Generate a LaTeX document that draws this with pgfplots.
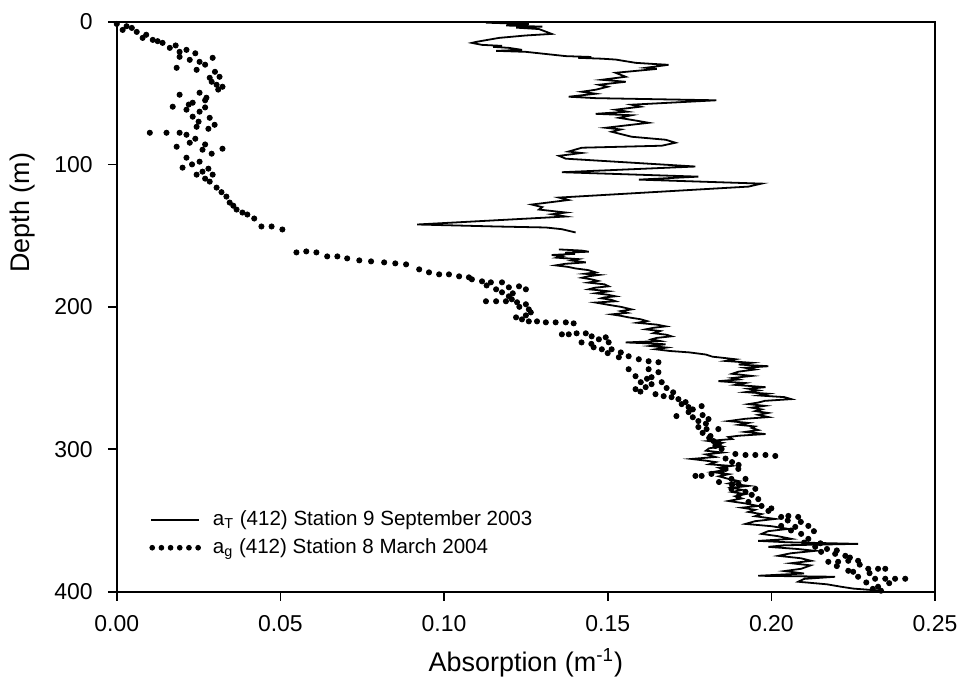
\documentclass[border=0pt]{standalone}
\usepackage{pgfplots}
\pgfplotsset{compat=1.18}
\usepackage{pgfplotstable}
\usepackage{fontspec}
\setmainfont{Liberation Sans}

\pgfplotstableread{
x d
0.1128 0.5
0.1259 1.5
0.1190 2.5
0.1300 3.3
0.1220 4.0
0.1290 5.0
0.1329 8.4
0.1250 9.5
0.1168 11.2
0.1098 14.0
0.1085 14.7
0.1116 16.1
0.1177 16.8
0.1150 17.5
0.1198 18.2
0.1238 19.6
0.1159 20.3
0.1250 21.0
0.1372 24.0
0.1450 24.6
0.1410 25.2
0.1482 25.8
0.1524 26.4
0.1585 28.7
0.1640 29.5
0.1686 30.1
0.1616 32.2
0.1650 33.0
0.1524 35.7
0.1555 38.5
0.1482 40.6
0.1555 42.0
0.1473 44.1
0.1500 45.5
0.1463 47.6
0.1421 49.0
0.1463 50.4
0.1381 52.5
0.1463 53.5
0.1832 55.0
0.1573 58.1
0.1600 59.5
0.1524 61.6
0.1560 63.0
0.1463 64.5
0.1573 65.5
0.1534 67.3
0.1580 69.0
0.1625 70.8
0.1494 74.3
0.1540 75.5
0.1512 77.1
0.1573 80.6
0.1677 82.7
0.1707 84.8
0.1665 86.9
0.1421 88.3
0.1380 91.0
0.1420 92.0
0.1351 94.0
0.1372 96.0
0.1768 101.5
0.1360 105.5
0.1777 108.6
0.1595 110.7
0.1970 113.5
0.1930 115.6
0.1351 123.3
0.1380 125.0
0.1268 128.2
0.1300 130.0
0.1290 131.7
0.1372 133.8
0.1330 135.0
0.1372 136.6
0.0918 142.2
0.1159 143.6
0.1311 144.3
0.1360 145.5
0.1402 147.8
nan nan
0.1351 159.7
0.1420 160.5
0.1442 161.3
0.1370 162.0
0.1400 162.8
0.1329 163.6
0.1360 164.6
0.1345 165.5
0.1410 166.5
0.1390 167.5
0.1433 168.8
0.1370 169.8
0.1341 170.9
0.1380 172.0
0.1400 173.0
0.1440 174.2
0.1463 175.8
0.1430 176.8
0.1473 177.6
0.1440 178.6
0.1421 179.6
0.1450 180.7
0.1470 181.8
0.1440 183.0
0.1490 184.2
0.1503 185.6
0.1460 186.6
0.1442 187.7
0.1480 188.5
0.1503 189.1
0.1463 190.5
0.1500 191.5
0.1524 192.6
0.1490 193.4
0.1480 194.0
0.1510 195.0
0.1524 196.1
0.1463 197.0
0.1500 198.5
0.1540 200.0
0.1573 201.8
0.1540 203.0
0.1560 204.2
0.1512 205.3
0.1540 206.3
0.1564 207.4
0.1600 208.7
0.1620 210.0
0.1590 211.2
0.1650 212.5
0.1677 213.7
0.1640 214.7
0.1616 215.8
0.1660 217.0
0.1640 218.5
0.1680 219.6
0.1695 220.7
0.1650 221.8
0.1634 222.8
0.1660 224.0
0.1555 225.0
0.1620 225.6
0.1677 226.3
0.1630 227.5
0.1680 228.6
0.1646 229.8
0.1690 231.0
0.1750 232.0
0.1800 233.5
0.1820 235.0
0.1860 236.0
0.1890 236.8
0.1860 238.0
0.1940 239.3
0.1900 240.5
0.1991 241.7
0.1920 242.8
0.1950 244.0
0.1900 245.5
0.1880 247.0
0.1940 248.5
0.1880 250.0
0.1900 251.0
0.1838 252.2
0.1920 253.5
0.1890 254.8
0.1982 256.4
0.1930 257.5
0.1960 258.7
0.1921 259.9
0.1990 261.0
0.1960 262.2
0.2040 263.4
0.2061 264.8
0.1980 266.0
0.1960 267.2
0.1930 268.3
0.1980 269.5
0.1940 270.8
0.1970 272.0
0.1951 273.2
0.1990 274.5
0.1960 275.8
0.1991 277.4
0.1920 278.6
0.1869 280.2
0.1930 281.5
0.1900 282.8
0.1950 284.0
0.1940 285.0
0.1960 286.5
0.1920 287.8
0.1982 289.3
0.1900 290.5
0.1869 291.4
0.1880 292.8
0.1808 294.2
0.1850 295.5
0.1830 296.8
0.1850 298.0
0.1810 299.3
0.1800 301.0
0.1850 302.3
0.1800 303.6
0.1829 305.4
0.1756 306.8
0.1800 308.0
0.1830 309.0
0.1810 310.5
0.1878 311.7
0.1840 313.0
0.1860 314.5
0.1820 316.0
0.1870 317.5
0.1840 319.0
0.1869 320.8
0.1900 322.3
0.1870 324.0
0.1930 325.7
0.1880 327.0
0.1910 328.5
0.1880 330.0
0.1920 331.5
0.1890 333.0
0.1910 334.5
0.1869 336.3
0.1920 338.0
0.1960 339.8
0.1910 341.0
0.1950 342.5
0.1930 344.0
0.1970 345.5
0.1950 347.0
0.2012 348.9
0.1950 350.5
0.1921 352.4
0.2000 354.0
0.2052 355.9
0.1990 357.5
0.1970 359.4
0.2020 361.0
0.2061 362.9
0.1960 364.3
0.2050 365.3
0.2265 366.4
0.2040 367.4
0.1991 368.5
0.2080 370.0
0.2134 371.3
0.2060 373.0
0.2021 374.8
0.2090 376.5
0.2122 378.3
0.2060 380.0
0.2120 381.5
0.2091 383.9
0.2040 385.5
0.2100 387.2
0.1960 388.8
0.2195 389.5
0.2100 391.0
0.2082 393.0
0.2170 394.8
0.2213 396.5
0.2250 397.8
0.2335 399.3
}\aT

\pgfplotstableread{
x d
0.0000 1.4
0.0046 4.2
0.0018 5.6
0.0061 7.0
0.0079 11.2
0.0110 12.6
0.0140 14.7
0.0162 18.2
0.0213 19.6
0.0192 21.0
0.0192 24.5
0.0293 25.2
0.0223 26.6
0.0253 28.0
0.0183 32.2
0.0244 33.6
0.0314 38.5
0.0284 39.2
0.0305 44.1
0.0323 45.5
0.0253 49.7
0.0192 51.1
0.0274 53.2
0.0232 56.7
0.0171 59.5
0.0213 61.6
0.0253 63.0
0.0232 66.5
0.0284 67.3
0.0299 72.2
0.0244 73.6
0.0101 77.8
0.0152 77.8
0.0192 77.8
0.0213 79.2
0.0223 84.8
0.0183 87.6
0.0323 89.0
0.0262 89.7
0.0213 95.3
0.0253 98.1
0.0201 102.3
0.0262 105.1
0.0244 107.2
0.0293 107.2
0.0284 112.1
0.0305 116.3
0.0335 122.6
0.0345 126.8
0.0366 131.7
0.0384 133.8
0.0399 135.2
0.0442 143.6
0.0473 143.6
0.0506 145.7
0.0030 3.0
0.0090 9.0
0.0125 13.5
0.0180 16.5
0.0240 22.0
0.0270 30.0
0.0300 35.0
0.0290 42.0
0.0310 47.5
0.0270 55.0
0.0220 58.0
0.0270 60.0
0.0250 70.0
0.0280 75.0
0.0240 82.0
0.0270 86.0
0.0290 92.5
0.0230 100.0
0.0280 103.0
0.0270 110.0
0.0320 119.5
0.0356 129.0
0.0420 138.0
0.0549 161.8
0.0579 161.1
0.0610 161.8
0.0643 164.6
0.0674 164.6
0.0704 166.0
0.0741 167.4
0.0777 168.1
0.0817 168.8
0.0851 169.5
0.0884 170.2
0.0924 173.7
0.0954 175.8
0.0985 177.2
0.1015 177.2
0.1046 178.6
0.1076 179.3
0.1085 180.7
0.1116 182.1
0.1143 182.8
0.1177 182.8
0.1198 186.3
0.1229 185.6
0.1250 187.7
0.1159 187.7
0.1177 189.8
0.1198 192.6
0.1128 196.1
0.1159 196.1
0.1189 196.1
0.1207 194.7
0.1223 196.8
0.1250 198.2
0.1259 201.8
0.1265 203.9
0.1220 207.4
0.1238 208.8
0.1259 210.2
0.1284 210.2
0.1311 210.9
0.1341 210.9
0.1372 210.9
0.1396 211.6
0.1130 185.0
0.1210 190.5
0.1230 200.0
0.1250 206.0
0.1360 219.3
0.1381 219.3
0.1405 218.6
0.1433 218.6
0.1451 220.7
0.1473 222.8
0.1494 221.4
0.1503 224.9
0.1420 225.0
0.1450 226.0
0.1457 228.4
0.1482 229.8
0.1512 229.8
0.1540 232.0
0.1500 232.5
0.1534 235.4
0.1564 234.7
0.1595 236.8
0.1625 238.2
0.1655 238.9
0.1564 243.8
0.1625 243.8
0.1655 245.9
0.1585 248.7
0.1634 249.4
0.1620 250.5
0.1601 252.9
0.1665 252.9
0.1634 254.3
0.1616 256.4
0.1585 257.8
0.1680 257.0
0.1600 259.5
0.1700 260.0
0.1646 261.3
0.1671 262.7
0.1695 263.4
0.1716 264.8
0.1738 266.9
0.1726 268.3
0.1787 269.7
0.1747 270.4
0.1760 272.0
0.1747 273.9
0.1790 276.0
0.1710 276.7
0.1760 277.5
0.1808 278.8
0.1777 280.2
0.1800 282.0
0.1777 284.4
0.1802 285.8
0.1838 285.8
0.1790 288.5
0.1814 290.7
0.1810 292.0
0.1823 294.2
0.1840 296.0
0.1829 297.7
0.1848 299.8
0.1890 303.3
0.1921 304.0
0.1951 304.0
0.1982 304.0
0.2012 304.7
0.1860 306.5
0.1880 309.0
0.1900 311.0
0.1860 313.8
0.1899 313.8
0.1848 315.9
0.1817 317.3
0.1787 318.7
0.1768 318.7
0.1878 320.8
0.1921 320.8
0.1840 323.0
0.1900 324.5
0.1880 325.0
0.1878 327.8
0.1951 327.8
0.1921 329.9
0.1940 332.0
0.1899 333.3
0.1960 335.0
0.1930 337.0
0.1970 339.8
0.2000 341.5
0.1991 343.3
0.2030 347.5
0.2052 346.8
0.2082 347.5
0.2050 350.0
0.2090 351.0
0.2030 353.8
0.2073 354.5
0.2113 353.8
0.2060 357.0
0.2130 357.5
0.2091 359.4
0.2113 362.9
0.2100 365.5
0.2150 366.0
0.2134 368.5
0.2170 370.0
0.2200 371.0
0.2152 372.0
0.2195 373.4
0.2226 374.8
0.2240 376.0
0.2174 379.0
0.2204 379.0
0.2235 378.3
0.2265 378.3
0.2270 381.0
0.2200 382.0
0.2296 383.9
0.2326 383.9
0.2348 383.9
0.2235 385.3
0.2250 386.0
0.2300 387.0
0.2265 389.5
0.2317 390.9
0.2348 390.9
0.2378 390.9
0.2409 390.9
0.2290 393.5
0.2360 394.0
0.2326 396.5
0.2310 398.0
0.2335 399.3
}\ag

\begin{document}
\begin{tikzpicture}
\begin{axis}[
  scale only axis,
  width=410pt, height=285.5pt,
  xmin=0, xmax=0.25, ymin=0, ymax=400,
  y dir=reverse,
  xtick={0,0.05,0.10,0.15,0.20,0.25},
  ytick={0,100,200,300,400},
  minor tick num=0,
  tick align=outside,
  major tick length=4.5pt,
  xtick pos=bottom, ytick pos=left,
  axis line style={line width=0.8pt},
  major tick style={line width=0.8pt, black},
  /pgf/number format/assume math mode=true,
  xticklabel style={/pgf/number format/.cd, fixed, fixed zerofill, precision=2, /tikz/.cd, font=\fontsize{11.5}{13}\selectfont, yshift=-4pt},
  yticklabel style={font=\fontsize{11.5}{13}\selectfont, xshift=-4pt},
  scaled x ticks=false,
  xlabel={Absorption (m\textsuperscript{-1})},
  ylabel={Depth (m)},
  xlabel style={font=\fontsize{13.5}{15}\selectfont, at={(axis description cs:0.5,-0.125)}, anchor=center},
  ylabel style={font=\fontsize{13.5}{15}\selectfont, at={(axis description cs:-0.115,0.665)}, anchor=center},
  unbounded coords=jump,
  legend style={at={(axis description cs:0.037,0.153)}, anchor=north west, draw=none, fill=none,
    font=\fontsize{10.3}{12}\selectfont, row sep=1pt, inner sep=1pt},
  legend cell align=left,
]
\coordinate (bl) at (axis description cs:-0.1427,-0.1839);
\coordinate (tr) at (axis description cs:1.0329,1.0385);
\addplot[black, line width=0.9pt, line join=miter, mark=none,
  legend image code/.code={\draw[black, line width=0.9pt] (0pt,0pt) -- (24pt,0pt);}]
  table[x=x, y=d] {\aT};
\addlegendentry{\hspace{4pt}a\textsubscript{T} (412) Station 9 September 2003}
\addplot[black, only marks, mark=*, mark size=1.3pt,
  legend image code/.code={\foreach \i in {0,1,...,5} {\fill[black] (\i*4.6pt+0.6pt,0pt) circle (1.2pt);}}]
  table[x=x, y=d] {\ag};
\addlegendentry{\hspace{4pt}a\textsubscript{g} (412) Station 8 March 2004}
\end{axis}
\path (bl) rectangle (tr);
\end{tikzpicture}
\end{document}
